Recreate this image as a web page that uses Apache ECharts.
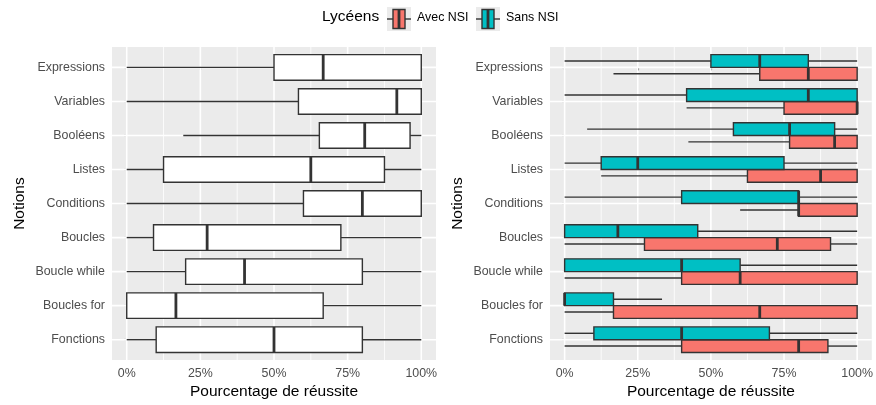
<!DOCTYPE html>
<html><head><meta charset="utf-8">
<script src="https://cdn.jsdelivr.net/npm/echarts@6/dist/echarts.min.js"></script>
<style>html,body{margin:0;padding:0;background:#fff}#c{width:876px;height:405px}</style>
</head><body><div id="c"></div>
<script>
// ---- data (percent) : [min, Q1, median, Q3, max] ----
const notions = ['Expressions','Variables','Booléens','Listes','Conditions','Boucles','Boucle while','Boucles for','Fonctions'];
const tousLyceens = [
  [0, 50, 66.7, 100, 100],
  [0, 58.3, 91.7, 100, 100],
  [19.2, 65.4, 80.8, 96.2, 100],
  [0, 12.5, 62.5, 87.5, 100],
  [0, 60, 80, 100, 100],
  [0, 9.1, 27.3, 72.7, 100],
  [0, 20, 40, 80, 100],
  [0, 0, 16.7, 66.7, 100],
  [0, 10, 50, 80, 100]
];
const avecNSI = [
  [16.7, 66.7, 83.3, 100, 100],
  [41.7, 75, 100, 100, 100],
  [42.3, 76.9, 92.3, 100, 100],
  [12.5, 62.5, 87.5, 100, 100],
  [60, 80, 80, 100, 100],
  [0, 27.3, 72.7, 90.9, 100],
  [0, 40, 60, 100, 100],
  [0, 16.7, 66.7, 100, 100],
  [0, 40, 80, 90, 100]
];
const sansNSI = [
  [0, 50, 66.7, 83.3, 100],
  [0, 41.7, 83.3, 100, 100],
  [7.7, 57.7, 76.9, 92.3, 100],
  [0, 12.5, 25, 75, 100],
  [0, 40, 80, 80, 100],
  [0, 0, 18.2, 45.5, 100],
  [0, 0, 40, 60, 100],
  [0, 0, 0, 16.7, 33.3],
  [0, 10, 40, 70, 100]
];
const xTicks = [0, 25, 50, 75, 100];
const xMinorTicks = [12.5, 37.5, 62.5, 87.5];
const groupes = ['Avec NSI', 'Sans NSI'];
const legendTitle = 'Lycéens';
const xTitle = 'Pourcentage de réussite';
const yTitle = 'Notions';

const COLORS = {'Avec NSI': '#F8766D', 'Sans NSI': '#00BFC4'};
const FONT = '"Liberation Sans", Arial, Helvetica, sans-serif';
const EDGE = '#333333';
const yTicks = notions.map((n, i) => i);

const chart = echarts.init(document.getElementById('c'));

function vLines(gi, vals, w) {
  return {
    type: 'custom', xAxisIndex: gi, yAxisIndex: gi, silent: true, z: 1,
    data: vals.map(v => [v]), encode: {x: 0},
    renderItem(params, api) {
      const cs = params.coordSys;
      const x = api.coord([api.value(0), 0])[0];
      return {type: 'line', shape: {x1: x, y1: cs.y, x2: x, y2: cs.y + cs.height},
              style: {stroke: '#FFFFFF', lineWidth: w}};
    }
  };
}
function hLines(gi, w) {
  return {
    type: 'custom', xAxisIndex: gi, yAxisIndex: gi, silent: true, z: 1,
    data: yTicks.map(v => [v]), encode: {y: 0},
    renderItem(params, api) {
      const cs = params.coordSys;
      const y = api.coord([0, api.value(0)])[1];
      return {type: 'line', shape: {x1: cs.x, y1: y, x2: cs.x + cs.width, y2: y},
              style: {stroke: '#FFFFFF', lineWidth: w}};
    }
  };
}
function boxSeries(gi, arr, color, offsetFrac, hFrac, name) {
  return {
    type: 'custom', name: name, xAxisIndex: gi, yAxisIndex: gi, z: 3,
    data: arr.map((v, i) => [i].concat(v)), encode: {y: 0, x: [1, 2, 3, 4, 5]},
    renderItem(params, api) {
      const i = api.value(0);
      const band = Math.abs(api.coord([0, 1])[1] - api.coord([0, 0])[1]);
      const yc = api.coord([0, i])[1] + offsetFrac * band;
      const h = hFrac * band;
      const X = k => api.coord([api.value(k), i])[0];
      const mn = X(1), q1 = X(2), md = X(3), q3 = X(4), mx = X(5);
      const ls = {stroke: EDGE, lineWidth: 1.4};
      const ch = [];
      if (q1 > mn) ch.push({type: 'line', shape: {x1: mn, y1: yc, x2: q1, y2: yc}, style: ls});
      if (mx > q3) ch.push({type: 'line', shape: {x1: q3, y1: yc, x2: mx, y2: yc}, style: ls});
      ch.push({type: 'rect', shape: {x: q1, y: yc - h / 2, width: q3 - q1, height: h},
               style: {fill: color, stroke: EDGE, lineWidth: 1.4}});
      ch.push({type: 'line', shape: {x1: md, y1: yc - h / 2, x2: md, y2: yc + h / 2},
               style: {stroke: EDGE, lineWidth: 2.8}});
      return {type: 'group', children: ch};
    }
  };
}
function xAxis(gi) {
  return {
    type: 'value', gridIndex: gi, min: -5, max: 105,
    axisLine: {show: false}, splitLine: {show: false},
    axisTick: {show: true, customValues: xTicks, length: 3, lineStyle: {color: EDGE, width: 1.1}},
    axisLabel: {customValues: xTicks, formatter: v => v + '%', color: '#4D4D4D', fontSize: 12.4, margin: 7, fontFamily: FONT},
    name: xTitle, nameLocation: 'middle', nameGap: 21,
    nameTextStyle: {color: '#000', fontSize: 15.5, fontFamily: FONT}
  };
}
function yAxis(gi) {
  return {
    type: 'value', gridIndex: gi, min: -0.6, max: 8.6, inverse: true,
    axisLine: {show: false}, splitLine: {show: false},
    axisTick: {show: true, customValues: yTicks, length: 3, lineStyle: {color: EDGE, width: 1.1}},
    axisLabel: {customValues: yTicks, formatter: v => notions[Math.round(v)], color: '#4D4D4D', fontSize: 12.4, margin: 7, fontFamily: FONT},
    name: yTitle, nameLocation: 'middle', nameGap: 84, nameRotate: 90,
    nameTextStyle: {color: '#000', fontSize: 15.5, fontFamily: FONT}
  };
}

// legend drawn with graphic elements (ggplot-like keys)
const legendEls = [{type: 'text', left: 322, top: 9,
  style: {text: legendTitle, fill: '#000', font: '15.5px ' + FONT}}];
let lx = 387;
groupes.forEach(g => {
  legendEls.push({type: 'rect', shape: {x: lx, y: 7, width: 24, height: 24}, style: {fill: '#EBEBEB'}});
  legendEls.push({type: 'line', shape: {x1: lx, y1: 19, x2: lx + 6, y2: 19}, style: {stroke: EDGE, lineWidth: 1.4}});
  legendEls.push({type: 'line', shape: {x1: lx + 18, y1: 19, x2: lx + 24, y2: 19}, style: {stroke: EDGE, lineWidth: 1.4}});
  legendEls.push({type: 'rect', shape: {x: lx + 6, y: 9.5, width: 12, height: 19}, style: {fill: COLORS[g], stroke: EDGE, lineWidth: 1.4}});
  legendEls.push({type: 'line', shape: {x1: lx + 12, y1: 9.5, x2: lx + 12, y2: 28.5}, style: {stroke: EDGE, lineWidth: 2.8}});
  legendEls.push({type: 'text', left: lx + 30, top: 12,
    style: {text: g, fill: '#000', font: '12.4px ' + FONT}});
  lx += 89;
});

chart.setOption({
  animation: false,
  backgroundColor: '#FFFFFF',
  textStyle: {fontFamily: FONT},
  grid: [
    {left: 112, top: 47, width: 324, height: 317, show: true, backgroundColor: '#EBEBEB', borderWidth: 0},
    {left: 550, top: 47, width: 325, height: 317, show: true, backgroundColor: '#EBEBEB', borderWidth: 0}
  ],
  xAxis: [xAxis(0), xAxis(1)],
  yAxis: [yAxis(0), yAxis(1)],
  graphic: legendEls,
  series: [
    vLines(0, xMinorTicks, 0.8), vLines(0, xTicks, 1.6), hLines(0, 1.6),
    vLines(1, xMinorTicks, 0.8), vLines(1, xTicks, 1.6), hLines(1, 1.6),
    boxSeries(0, tousLyceens, '#FFFFFF', 0, 0.75, 'Tous'),
    boxSeries(1, avecNSI, COLORS['Avec NSI'], 0.1875, 0.375, 'Avec NSI'),
    boxSeries(1, sansNSI, COLORS['Sans NSI'], -0.1875, 0.375, 'Sans NSI')
  ]
});
</script></body></html>
